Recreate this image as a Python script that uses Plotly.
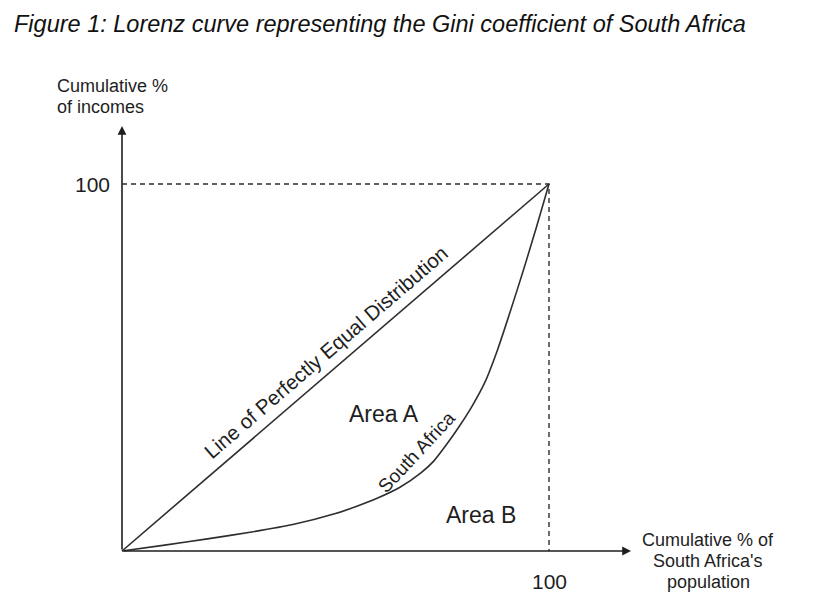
import plotly.graph_objects as go

# ---- data ----
pop_pct = [0, 10, 20, 30, 40, 50, 55, 60, 65, 70, 73, 76, 79, 82, 85, 88, 91, 94, 97, 100]
income_pct = [0, 1.6, 3.3, 5.1, 7.2, 10.2, 12.2, 14.5, 17.3, 21.3, 24.5, 29, 34, 39.5,
              46, 55, 65.5, 76.5, 88, 100]
equal_x = [0, 100]
equal_y = [0, 100]
tick_value = 100
tick_label = "100"
title_text = "Figure 1: Lorenz curve representing the Gini coefficient of South Africa"
y_title_lines = ["Cumulative %", "of incomes"]
x_title_lines = ["Cumulative % of", "South Africa's", "population"]

# pixel geometry of the reference (origin and 100/100 corner)
W, H = 825, 609
BODY = 8  # page margin around the plot div
ox, oy = 122, 551
px_per_x = (549 - 122) / 100.0
px_per_y = (551 - 184) / 100.0

def dx(p):  # reference pixel x -> data x
    return (p - ox) / px_per_x

def dy(p):  # reference pixel y -> data y
    return (oy - p) / px_per_y

FONT = "Liberation Sans, Arial, sans-serif"
TXT = "#1e1e1e"
LN = "#2e2e2e"

fig = go.Figure()

fig.add_trace(go.Scatter(x=equal_x, y=equal_y, mode="lines",
                         line=dict(color=LN, width=1.6), hoverinfo="skip"))
fig.add_trace(go.Scatter(x=pop_pct, y=income_pct, mode="lines",
                         line=dict(color=LN, width=1.6, shape="spline", smoothing=0.6),
                         hoverinfo="skip"))
fig.add_trace(go.Scatter(x=[0, tick_value, tick_value], y=[tick_value, tick_value, 0],
                         mode="lines", line=dict(color=LN, width=1.4, dash="5px,4px"),
                         hoverinfo="skip"))

ann = []
ann.append(dict(x=0, y=dy(126), ax=0, ay=0, xref="x", yref="y", axref="x", ayref="y",
                text="", showarrow=True, arrowhead=2, arrowsize=1.1, arrowwidth=1.6,
                arrowcolor="#1e1e1e", standoff=0))
ann.append(dict(x=dx(631), y=0, ax=0, ay=0, xref="x", yref="y", axref="x", ayref="y",
                text="", showarrow=True, arrowhead=2, arrowsize=1.1, arrowwidth=1.6,
                arrowcolor="#1e1e1e", standoff=0))

ann.append(dict(x=dx(112), y=tick_value, xref="x", yref="y", text=tick_label,
                showarrow=False, xanchor="right", yanchor="middle",
                font=dict(family=FONT, size=21, color=TXT)))
ann.append(dict(x=tick_value, y=dy(581), xref="x", yref="y", text=tick_label,
                showarrow=False, xanchor="center", yanchor="middle",
                font=dict(family=FONT, size=21, color=TXT)))

for i, t in enumerate(y_title_lines):
    ann.append(dict(x=dx(55), y=dy(86 + 21 * i), xref="x", yref="y", text=t,
                    showarrow=False, xanchor="left", yanchor="middle",
                    font=dict(family=FONT, size=18, color=TXT)))
for i, t in enumerate(x_title_lines):
    ann.append(dict(x=dx(708), y=dy(540 + 21 * i), xref="x", yref="y", text=t,
                    showarrow=False, xanchor="center", yanchor="middle",
                    font=dict(family=FONT, size=18, color=TXT)))

ann.append(dict(x=dx(325), y=dy(352), xref="x", yref="y",
                text="Line of Perfectly Equal Distribution", textangle=-40.7,
                showarrow=False, font=dict(family=FONT, size=20.5, color=TXT)))
ann.append(dict(x=dx(416), y=dy(452), xref="x", yref="y",
                text="South Africa", textangle=-47,
                showarrow=False, font=dict(family=FONT, size=19, color=TXT)))
ann.append(dict(x=dx(384), y=dy(414), xref="x", yref="y", text="Area A",
                showarrow=False, font=dict(family=FONT, size=23, color=TXT)))
ann.append(dict(x=dx(481), y=dy(515), xref="x", yref="y", text="Area B",
                showarrow=False, font=dict(family=FONT, size=23, color=TXT)))

ann.append(dict(x=dx(12), y=dy(24), xref="x", yref="y",
                text="<i>" + title_text + "</i>", showarrow=False,
                xanchor="left", yanchor="middle",
                font=dict(family=FONT, size=23.5, color="#111111")))

fig.update_layout(
    width=W - BODY, height=H - BODY,
    margin=dict(l=0, r=0, t=0, b=0),
    paper_bgcolor="white", plot_bgcolor="white",
    showlegend=False,
    xaxis=dict(range=[dx(BODY), dx(W)], visible=False, fixedrange=True),
    yaxis=dict(range=[dy(H), dy(BODY)], visible=False, fixedrange=True),
    annotations=ann,
)

fig.write_html("out.html")
